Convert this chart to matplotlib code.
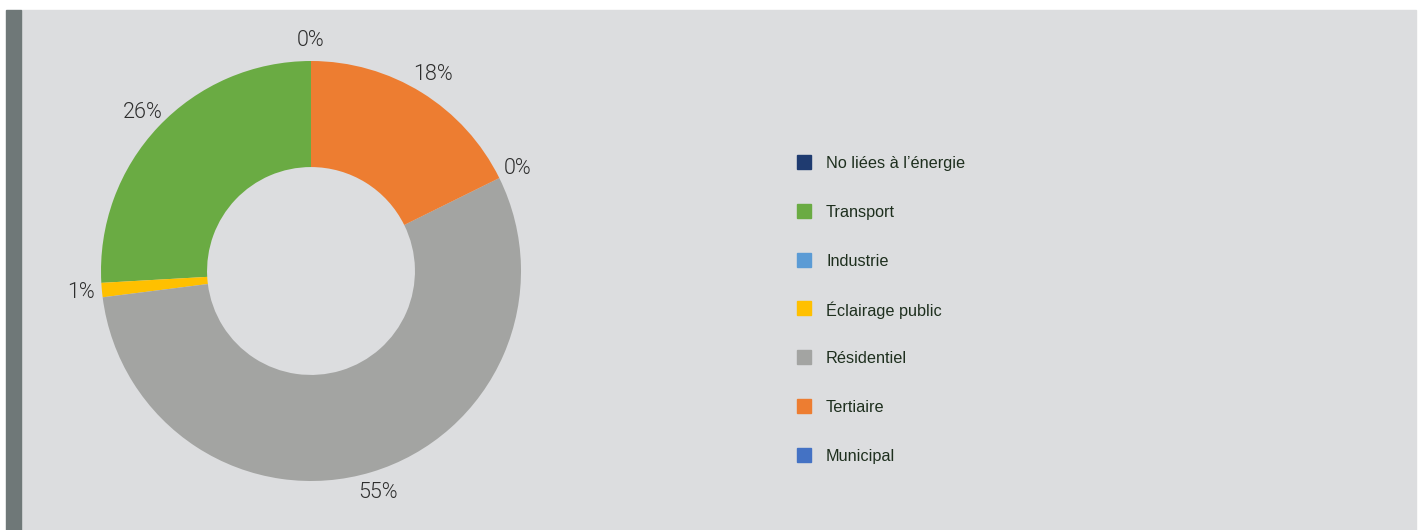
import numpy as np
import matplotlib.pyplot as plt
from matplotlib.patches import Rectangle

# legend entries (legend order)
sectors = ['No liées à l\u2019énergie', 'Transport', 'Industrie', 'Éclairage public',
           'Résidentiel', 'Tertiaire', 'Municipal']
colors = ['#1f3b70', '#6aab43', '#5b9bd5', '#ffc000', '#a3a4a2', '#ed7d31', '#4472c4']
shares = [0.0, 25.9, 0.0, 1.1, 55.3, 17.7, 0.0]

# order of the wedges around the ring, counter-clockwise from the top
ring_order = ['No liées à l\u2019énergie', 'Transport', 'Éclairage public', 'Résidentiel',
              'Industrie', 'Tertiaire', 'Municipal']

W, H = 1418, 530
fig = plt.figure(figsize=(W / 100, H / 100), dpi=100)
fig.patch.set_facecolor('white')

# panel background and left stripe
fig.patches.append(Rectangle((21 / W, 0), (1416 - 21) / W, (H - 10) / H,
                             transform=fig.transFigure, color='#dcdddf', zorder=-5))
fig.patches.append(Rectangle((6 / W, 0), 15 / W, (H - 10) / H,
                             transform=fig.transFigure, color='#6f7878', zorder=-5))

# donut
cx, cy, R = 311, 271, 210
half = 250
ax = fig.add_axes([(cx - half) / W, (H - cy - half) / H, 2 * half / W, 2 * half / H])
ax.set_zorder(1)
ax.axis('off')

idx = [sectors.index(s) for s in ring_order]
vals = [shares[i] for i in idx]
cols = [colors[i] for i in idx]
wedges, _ = ax.pie(vals, colors=cols, startangle=90, counterclock=True, radius=1,
                   wedgeprops=dict(width=0.505, linewidth=0))
ax.set_xlim(-half / R, half / R)
ax.set_ylim(-half / R, half / R)
ax.set_aspect('equal')

# percentage labels outside the ring (one per position)
seen = []
for w, v in zip(wedges, vals):
    mid = np.deg2rad((w.theta1 + w.theta2) / 2)
    key = round(np.rad2deg(mid) % 360, 1)
    if key in seen:
        continue
    seen.append(key)
    r = 1.1
    ax.text(r * np.cos(mid), r * np.sin(mid), f'{v:.0f}%', ha='center', va='center',
            fontsize=15.5, family='Roboto', fontweight=300, color='#2e2e2e')

# legend
for i, (name, c) in enumerate(zip(sectors, colors)):
    y = 162 + i * 48.8
    fig.patches.append(Rectangle((797 / W, (H - y - 7) / H), 14 / W, 14 / H,
                                 transform=fig.transFigure, color=c, zorder=2))
    fig.text(826 / W, (H - y - 1.5) / H, name, ha='left', va='center', fontsize=11.7,
             family='Liberation Sans', color='#1e2f1e')

fig.savefig('out.png', dpi=100)
